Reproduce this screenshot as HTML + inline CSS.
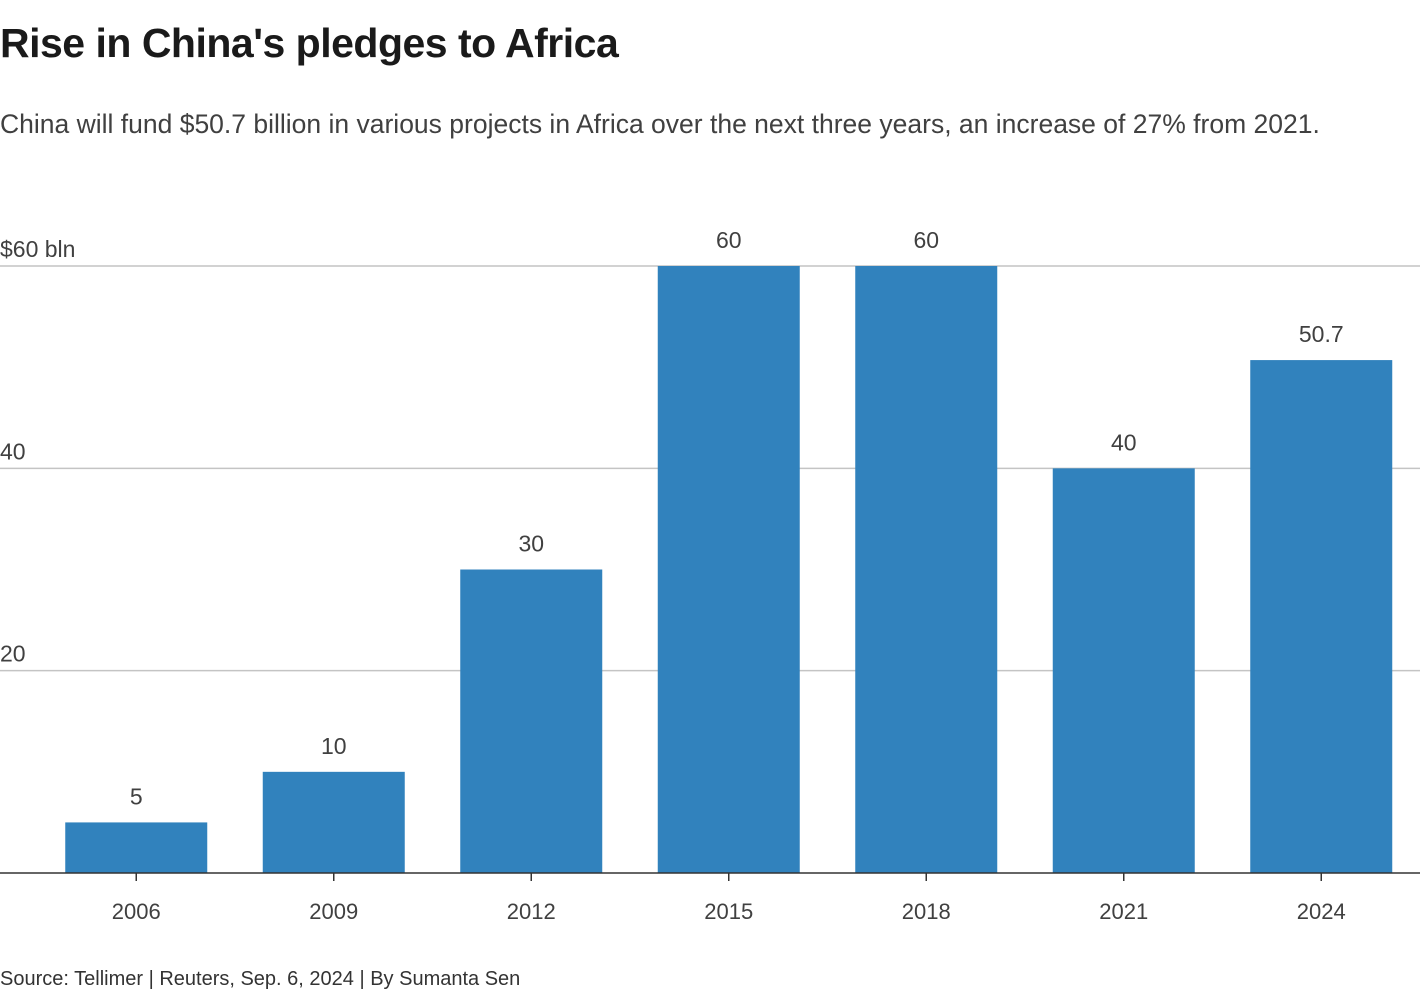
<!DOCTYPE html>
<html><head><meta charset="utf-8"><style>
body{margin:0;background:#fff;width:1420px;height:1004px;overflow:hidden;font-family:"Liberation Sans",sans-serif;}
#title{position:absolute;left:0;top:20px;font-size:41px;font-weight:bold;color:#1a1a1a;margin:0;letter-spacing:-0.5px}
#sub{position:absolute;left:0;top:104px;font-size:26.5px;color:#404040;line-height:40px;width:1400px;margin:0}
#src{position:absolute;left:0;top:968px;font-size:20px;color:#333}
svg{position:absolute;left:0;top:0}
</style></head><body>
<h1 id="title">Rise in China's pledges to Africa</h1>
<p id="sub">China will fund $50.7 billion in various projects in Africa over the next three years, an increase of 27% from 2021.</p>
<svg id="chart" width="1420" height="1004"></svg>
<div id="src">Source: Tellimer | Reuters, Sep. 6, 2024 | By Sumanta Sen</div>
<script>
const years=["2006","2009","2012","2015","2018","2021","2024"];
const values=[5,10,30,60,60,40,50.7];
const valueLabels=["5","10","30","60","60","40","50.7"];
const yTicks=[20,40,60];
const yTickLabels=["20","40","$60 bln"];
const NS="http://www.w3.org/2000/svg";
const svg=document.getElementById('chart');
const base=873,top60=266,x0=37.5,band=197.5,bw=142;
const y=v=>base-(v/60)*(base-top60);
const xc=i=>x0+band*(i+0.5);
function mk(t,a){const e=document.createElementNS(NS,t);for(const k in a)e.setAttribute(k,a[k]);svg.appendChild(e);return e;}
yTicks.forEach((t,i)=>{
 const l=mk('line',{x1:0,x2:1420,y1:y(t),y2:y(t),stroke:'#c4c4c4','stroke-width':1.5});
 
 
 const tx=mk('text',{x:0,y:y(t)-9,'font-size':23,fill:'#404040'});
 tx.textContent=yTickLabels[i];
 
 
});
values.forEach((v,i)=>{
 const r=mk('rect',{x:xc(i)-bw/2,y:y(v),width:bw,height:base-y(v),fill:'#3182bd'});
 
 
 const t=mk('text',{x:xc(i),y:y(v)-18,'font-size':23,fill:'#404040','text-anchor':'middle'});
 t.textContent=valueLabels[i];
 
 
 const tk=mk('line',{x1:xc(i),x2:xc(i),y1:base,y2:base+8,stroke:'#333','stroke-width':1.5});
 
 
 const xl=mk('text',{x:xc(i),y:919,'font-size':22,fill:'#404040','text-anchor':'middle'});
 xl.textContent=years[i];
 
 
});
const ax=mk('line',{x1:0,x2:1420,y1:base,y2:base,stroke:'#333','stroke-width':1.5});


</script>
</body></html>
